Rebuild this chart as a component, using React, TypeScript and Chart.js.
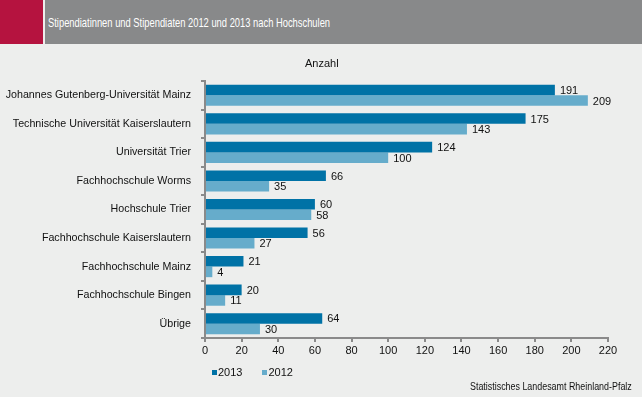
import React, { useEffect, useRef } from "react";
import { Chart, registerables } from "chart.js";

Chart.register(...registerables);

const categories = [
  "Johannes Gutenberg-Universität Mainz",
  "Technische Universität Kaiserslautern",
  "Universität Trier",
  "Fachhochschule Worms",
  "Hochschule Trier",
  "Fachhochschule Kaiserslautern",
  "Fachhochschule Mainz",
  "Fachhochschule Bingen",
  "Übrige",
];
const values2013 = [191, 175, 124, 66, 60, 56, 21, 20, 64];
const values2012 = [209, 143, 100, 35, 58, 27, 4, 11, 30];
const seriesNames = ["2013", "2012"];
const xMax = 220;
const xStep = 20;

const title = "Stipendiatinnen und Stipendiaten 2012 und 2013 nach Hochschulen";
const unitLabel = "Anzahl";
const sourceLabel = "Statistisches Landesamt Rheinland-Pfalz";

const C2013 = "#0072A6";
const C2012 = "#66ACCB";
const AXIS = "#8A8A8A";
const BG = "#EDEEED";
const FONT = "'Liberation Sans', Arial, sans-serif";

const valueLabels = {
  id: "valueLabels",
  afterDatasetsDraw(chart: any) {
    const ctx = chart.ctx;
    ctx.save();
    ctx.font = "11px " + FONT;
    ctx.fillStyle = "#111";
    ctx.textBaseline = "middle";
    ctx.textAlign = "left";
    chart.data.datasets.forEach((ds: any, i: number) => {
      const meta = chart.getDatasetMeta(i);
      meta.data.forEach((el: any, j: number) => {
        ctx.fillText(String(ds.data[j]), el.x + 5, el.y + 1);
      });
    });
    ctx.restore();
  },
};

export default function App() {
  const ref = useRef<HTMLCanvasElement>(null);
  useEffect(() => {
    document.body.style.margin = "0";
    const chart = new Chart(ref.current!, {
      type: "bar",
      data: {
        labels: categories,
        datasets: [
          { label: seriesNames[0], data: values2013, backgroundColor: C2013, barPercentage: 1, categoryPercentage: 0.74 },
          { label: seriesNames[1], data: values2012, backgroundColor: C2012, barPercentage: 1, categoryPercentage: 0.74 },
        ],
      },
      options: {
        indexAxis: "y",
        responsive: false,
        animation: false,
        layout: { padding: { top: 81, right: 34, left: 0, bottom: 39 } },
        plugins: { legend: { display: false }, tooltip: { enabled: false } },
        scales: {
          x: {
            min: 0,
            max: xMax,
            afterFit: (s: any) => { s.height = 20; },
            ticks: { stepSize: xStep, color: "#111", font: { family: FONT, size: 11 }, padding: 2, maxRotation: 0 },
            grid: { drawOnChartArea: false, drawTicks: true, tickLength: 4, color: AXIS, lineWidth: 2 },
            border: { color: AXIS, width: 2 },
          },
          y: {
            afterFit: (s: any) => { s.width = 205; },
            ticks: { color: "#111", font: { family: FONT, size: 10.7 }, padding: 10 },
            grid: { drawOnChartArea: false, drawTicks: true, tickLength: 4, color: AXIS, lineWidth: 2, offset: true },
            border: { color: AXIS, width: 2 },
          },
        },
      },
      plugins: [valueLabels],
    });
    return () => chart.destroy();
  }, []);

  return (
    <div style={{ position: "absolute", left: 0, top: 0, width: 642, height: 397, background: BG, overflow: "hidden", fontFamily: FONT }}>
      <div style={{ position: "absolute", left: 0, top: 0, width: 43, height: 44, background: "#B5133F" }} />
      <div style={{ position: "absolute", left: 45, top: 0, width: 597, height: 44, background: "#88898A" }} />
      <div style={{ position: "absolute", left: 48, top: 15, color: "#fff", fontSize: 13, lineHeight: "16px", whiteSpace: "nowrap", transform: "scaleX(0.72)", transformOrigin: "0 0" }}>{title}</div>
      <canvas ref={ref} width={642} height={397} style={{ position: "absolute", left: 0, top: 0, width: 642, height: 397 }} />
      <div style={{ position: "absolute", left: 305, top: 57, fontSize: 11, color: "#111" }}>{unitLabel}</div>
      <div style={{ position: "absolute", left: 212, top: 366, fontSize: 11, color: "#111", display: "flex", alignItems: "center" }}>
        <span style={{ display: "inline-block", width: 5, height: 5, background: C2013, marginRight: 1 }} />
        <span style={{ marginRight: 20 }}>{seriesNames[0]}</span>
        <span style={{ display: "inline-block", width: 5, height: 5, background: C2012, marginRight: 1 }} />
        <span>{seriesNames[1]}</span>
      </div>
      <div style={{ position: "absolute", right: 10, top: 381, fontSize: 10, color: "#111", whiteSpace: "nowrap", transform: "scaleX(0.89)", transformOrigin: "100% 0" }}>{sourceLabel}</div>
    </div>
  );
}
